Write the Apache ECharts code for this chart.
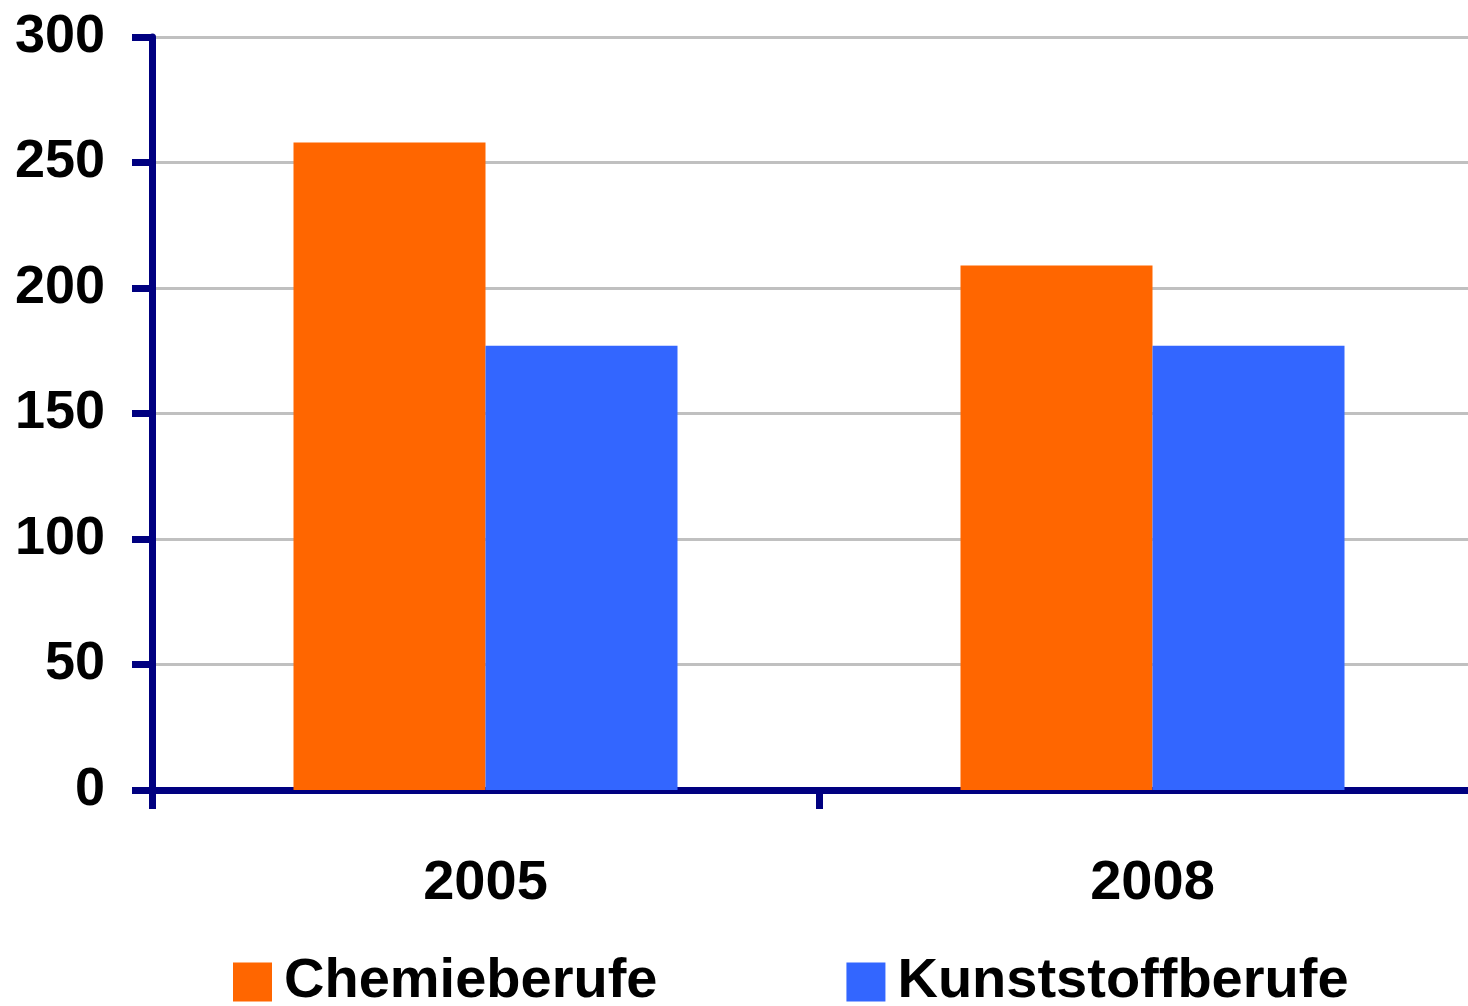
<!DOCTYPE html>
<html>
<head>
<meta charset="UTF-8">
<title>Chemie- und Kunststoffberufe</title>
<script src="https://cdn.jsdelivr.net/npm/echarts@6/dist/echarts.min.js"></script>
<style>
  html, body { margin: 0; padding: 0; background: #fff; }
  #chart { width: 1468px; height: 1006px; }
</style>
</head>
<body>
<div id="chart"></div>
<script>
// Daten
var years = ['2005', '2008'];
var chemie = [258, 209];
var kunststoff = [177, 177];
var seriesNames = ['Chemieberufe', 'Kunststoffberufe'];

var navy = '#000080';
var font = '"Liberation Sans", Arial, sans-serif';

var myChart = echarts.init(document.getElementById('chart'));

var option = {
    animation: false,
    backgroundColor: '#ffffff',
    grid: {
        left: 152,
        right: -18,
        top: 37,
        bottom: 216,
        containLabel: false,
        outerBoundsMode: 'none'
    },
    legend: {
        data: seriesNames,
        left: 228,
        top: 949,
        itemWidth: 39,
        itemHeight: 39,
        itemGap: 189,
        icon: 'rect',
        textStyle: {
            fontFamily: font,
            fontWeight: 'bold',
            fontSize: 56,
            lineHeight: 56,
            color: '#000',
            padding: [0, 0, 0, 7]
        }
    },
    xAxis: {
        type: 'category',
        data: years,
        axisLine: { lineStyle: { color: navy, width: 7 } },
        axisTick: { show: true, length: 19, lineStyle: { color: navy, width: 7 } },
        axisLabel: {
            margin: 66,
            fontFamily: font,
            fontWeight: 'bold',
            fontSize: 56,
            color: '#000'
        },
        splitLine: { show: false }
    },
    yAxis: {
        type: 'value',
        min: 0,
        max: 300,
        interval: 50,
        axisLine: { show: true, lineStyle: { color: navy, width: 7 } },
        axisTick: { show: true, length: 20, lineStyle: { color: navy, width: 7 } },
        axisLabel: {
            margin: 47,
            fontFamily: font,
            fontWeight: 'bold',
            fontSize: 54,
            color: '#000'
        },
        splitLine: { show: true, lineStyle: { color: '#c0c0c0', width: 3 } }
    },
    series: [
        {
            name: seriesNames[0],
            type: 'bar',
            data: chemie,
            barWidth: 192,
            barGap: '0%',
            itemStyle: { color: '#ff6600' }
        },
        {
            name: seriesNames[1],
            type: 'bar',
            data: kunststoff,
            barWidth: 192,
            itemStyle: { color: '#3366ff' }
        }
    ]
};

myChart.setOption(option);
</script>
</body>
</html>
